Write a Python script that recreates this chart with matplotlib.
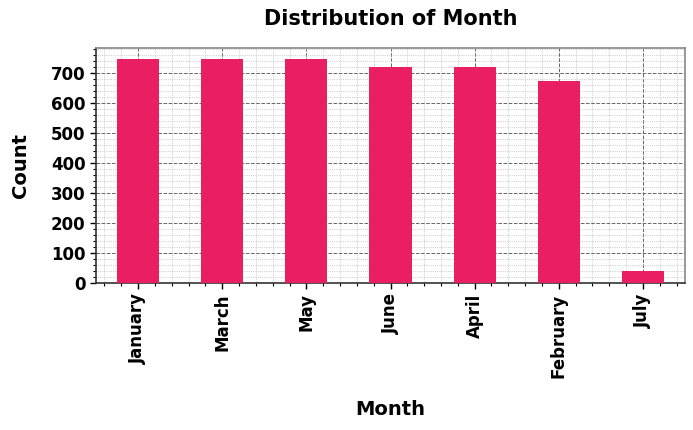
import matplotlib
matplotlib.use("Agg")
import matplotlib.pyplot as plt
from matplotlib.ticker import AutoMinorLocator, MultipleLocator

months = ["January", "March", "May", "June", "April", "February", "July"]
counts = [744, 744, 744, 720, 720, 672, 40]

plt.rcParams['font.family'] = ['DejaVu Sans']
fig = plt.figure(figsize=(6.93, 4.30), dpi=100)
ax = fig.add_axes([0.1385, 0.342, 0.85, 0.546])

x = list(range(len(months)))
ax.bar(x, counts, width=0.5, color="#E91E63", zorder=3)
ax.set_xlim(-0.5, len(months) - 0.5)
ax.set_ylim(0, max(counts) * 1.05)
ax.set_xticks(x)
ax.set_xticklabels(months, rotation=90, fontsize=12, fontweight='bold')
ax.yaxis.set_major_locator(MultipleLocator(100))
ax.xaxis.set_minor_locator(AutoMinorLocator(5))
ax.yaxis.set_minor_locator(AutoMinorLocator(5))
for lab in ax.get_yticklabels():
    lab.set_fontweight('bold')
    lab.set_fontsize(12)

ax.grid(which='major', linestyle='--', color='#666666', linewidth=0.7, zorder=0)
ax.grid(which='minor', linestyle=':', color='#aaaaaa', linewidth=0.5, zorder=0)
ax.tick_params(which='major', length=4, width=1)
ax.tick_params(which='minor', length=2, width=0.8)

for s in ['left', 'bottom']:
    ax.spines[s].set_color('#333333')
    ax.spines[s].set_linewidth(1.2)
for s in ['top', 'right']:
    ax.spines[s].set_color('#888888')
    ax.spines[s].set_linewidth(1.2)

ax.set_title("Distribution of Month", fontsize=15, fontweight='bold', pad=17)
ax.set_xlabel("Month", fontsize=14, fontweight='bold', labelpad=16)
ax.set_ylabel("Count", fontsize=14, fontweight='bold', labelpad=15)

fig.savefig("out.png", dpi=100)
